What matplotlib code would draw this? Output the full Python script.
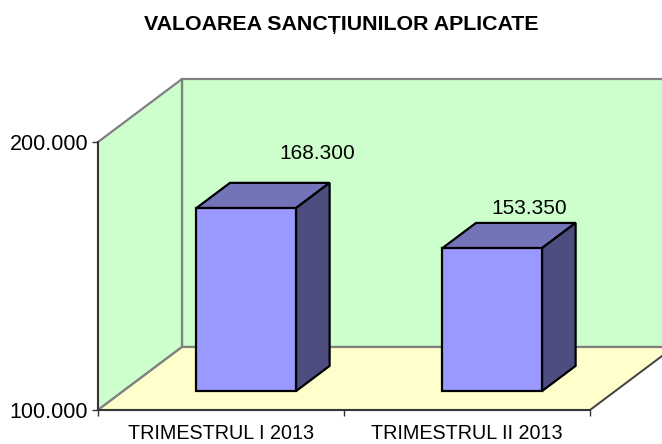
import matplotlib
matplotlib.use("Agg")
import matplotlib.pyplot as plt
from matplotlib.patches import Polygon

categories = ["TRIMESTRUL I 2013", "TRIMESTRUL II 2013"]
values = [168300, 153350]
y_ticks = [100000, 200000]
y_tick_labels = ["100.000", "200.000"]
title = "VALOAREA SANCȚIUNILOR APLICATE"

plt.rcParams['font.family'] = ['Liberation Sans', 'DejaVu Sans']

W, H = 662, 444
fig = plt.figure(figsize=(W / 100, H / 100), dpi=100)
ax = fig.add_axes([98 / W, (H - 410) / H, 492 / W, 268 / H])
ax.patch.set_visible(False)
ax.set_xlim(0, len(categories))
ax.set_ylim(y_ticks[0], y_ticks[1])

# shift of the back wall, in data units
depth_x = 84 / 246
depth_y = 63 / 268 * (y_ticks[1] - y_ticks[0])


def pt(x, y, z):
    # oblique projection, z=0 front plane, z=1 back wall
    return (x + z * depth_x, y + z * depth_y)


def face(points, **kw):
    ax.add_patch(Polygon(points, closed=True, clip_on=False, **kw))


y0, y1 = y_ticks
x1 = len(categories)
wall = "#CCFFCC"
floor = "#FFFFCC"
grey = "#808080"

# back wall, side wall, floor
face([pt(0, y0, 1), pt(x1, y0, 1), pt(x1, y1, 1), pt(0, y1, 1)],
     facecolor=wall, edgecolor=grey, lw=1.6, zorder=1)
face([pt(0, y0, 0), pt(0, y0, 1), pt(0, y1, 1), pt(0, y1, 0)],
     facecolor=wall, edgecolor=grey, lw=1.6, zorder=1.1)
face([pt(0, y0, 0), pt(x1, y0, 0), pt(x1, y0, 1), pt(0, y0, 1)],
     facecolor=floor, edgecolor=grey, lw=1.6, zorder=1.2)
ax.plot(*zip(pt(x1, y0, 0), pt(x1, y0, 1)), color="#303030", lw=0.8,
        clip_on=False, zorder=1.3)

# bars
bar_w = 0.405
z_a, z_b = 0.30, 0.70
for i, v in enumerate(values):
    l = i + 0.5 - bar_w / 2
    r = i + 0.5 + bar_w / 2
    style = dict(edgecolor="black", lw=1.6, joinstyle="miter", zorder=3)
    face([pt(l, v, z_a), pt(r, v, z_a), pt(r, v, z_b), pt(l, v, z_b)],
         facecolor="#7373B8", **style)
    face([pt(r, y0, z_a), pt(r, y0, z_b), pt(r, v, z_b), pt(r, v, z_a)],
         facecolor="#4D4D80", **style)
    face([pt(l, y0, z_a), pt(r, y0, z_a), pt(r, v, z_a), pt(l, v, z_a)],
         facecolor="#9999FF", **style)

# data labels, offset in pixels from the front top of each bar
offsets = [(71, 55), (37, 40)]
for i, v in enumerate(values):
    ax.annotate(f"{v:,}".replace(",", "."), xy=pt(i + 0.5, v, z_a),
                xytext=offsets[i], textcoords="offset pixels",
                ha="center", va="center", fontsize=15, zorder=4,
                annotation_clip=False)

ax.set_yticks(y_ticks)
ax.set_yticklabels(y_tick_labels, fontsize=15.5)
ax.set_xticks(range(len(categories) + 1))
ax.set_xticklabels([])
ax.set_xticks([i + 0.5 for i in range(len(categories))], minor=True)
ax.set_xticklabels(categories, minor=True, fontsize=14.2)
ax.tick_params(axis="x", which="minor", length=0, pad=10.2)
ax.tick_params(axis="x", which="major", length=4.5, width=1.0, color="#303030")
ax.tick_params(axis="y", length=4, width=1.0, color="#303030", pad=3)

for s in ["top", "right"]:
    ax.spines[s].set_visible(False)
for s in ["left", "bottom"]:
    ax.spines[s].set_color("#303030")
    ax.spines[s].set_linewidth(1.3)
    ax.spines[s].set_zorder(2)

fig.text(341 / W, 1 - 25 / H, title, ha="center", va="center",
         fontsize=15.4, fontweight="bold")

fig.savefig("out.png", dpi=100)
